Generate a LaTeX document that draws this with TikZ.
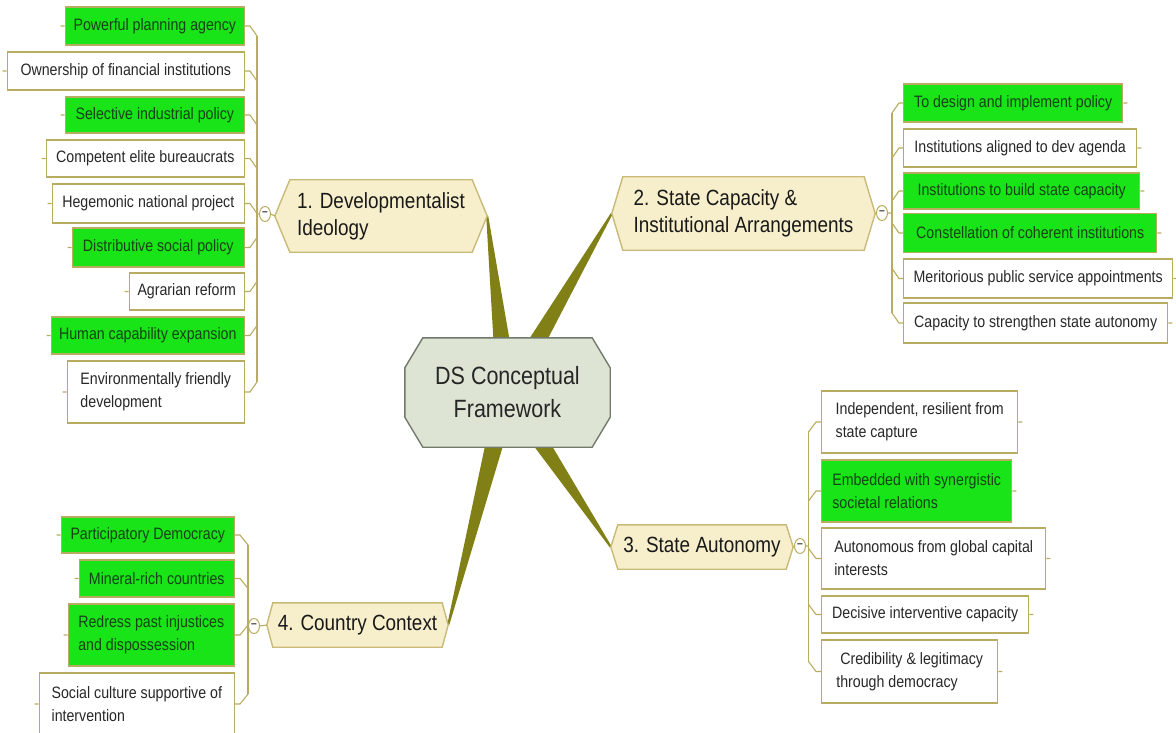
\documentclass[tikz,border=0pt]{standalone}
\usepackage{fontspec}
\setmainfont[FakeStretch=0.86]{Liberation Sans}
\usetikzlibrary{calc,backgrounds,shapes.geometric}

\definecolor{leafgreen}{RGB}{24,228,24}
\definecolor{leafline}{RGB}{184,172,96}
\definecolor{greentext}{RGB}{22,66,22}
\definecolor{greytext}{RGB}{40,40,40}
\definecolor{topicfill}{RGB}{247,239,204}
\definecolor{topicline}{RGB}{200,186,120}
\definecolor{hubfill}{RGB}{222,228,212}
\definecolor{hubline}{RGB}{112,122,106}
\definecolor{olivebar}{RGB}{128,128,22}

\begin{document}
\begin{tikzpicture}[x=1pt,y=-1pt,
    leaf/.style={draw=leafline, line width=1.4pt, fill=white, text=greytext, inner sep=3pt, align=left, font=\fontsize{16.5}{23}\selectfont},
    hot/.style={leaf, fill=leafgreen, text=greentext},
    topic/.style={inner sep=0pt, align=left, text=black!90, font=\fontsize{22}{27}\selectfont},
    twig/.style={leafline, line width=1.1pt},
    knob/.style={ellipse, draw=leafline, fill=white, line width=1pt, minimum width=11pt, minimum height=15pt, inner sep=0pt, font=\fontsize{12}{12}\selectfont\bfseries, text=black!75}]
        \useasboundingbox (0,0) rectangle (1176,733);

        % Centre
        \node[inner sep=0pt, align=center, minimum width=205pt, minimum height=109pt, text=black!85, font=\fontsize{25}{33}\selectfont] (hub) at (507.5,392.5) {DS Conceptual\\Framework};

        % Main topics
        \node[topic, minimum width=212pt, minimum height=72pt] (b1) at (381,216) {1. Developmentalist\\Ideology};
        \node[topic, minimum width=263pt, minimum height=73pt] (b2) at (743.5,213.5) {2. State Capacity \&\\Institutional Arrangements};
        \node[topic, minimum width=182pt, minimum height=44pt] (b3) at (702,547) {3. State Autonomy};
        \node[topic, minimum width=181pt, minimum height=44pt] (b4) at (357.5,625) {4. Country Context};

        \node[knob] (k1) at (265,214) {--};
        \node[knob] (k2) at (882,213) {--};
        \node[knob] (k3) at (800,546) {--};
        \node[knob] (k4) at (254,626) {--};

        % 1. Developmentalist Ideology
        \node[hot, anchor=east, minimum width=179pt, minimum height=38pt] (a1) at (245,26) {Powerful planning agency};
        \node[leaf, anchor=east, minimum width=237pt, minimum height=38pt] (a2) at (245,71) {Ownership of financial institutions};
        \node[hot, anchor=east, minimum width=179pt, minimum height=36pt] (a3) at (245,115) {Selective industrial policy};
        \node[leaf, anchor=east, minimum width=198pt, minimum height=37pt] (a4) at (245,158.5) {Competent elite bureaucrats};
        \node[leaf, anchor=east, minimum width=192pt, minimum height=39pt] (a5) at (245,203.5) {Hegemonic national project};
        \node[hot, anchor=east, minimum width=172pt, minimum height=39pt] (a6) at (245,247.5) {Distributive social policy};
        \node[leaf, anchor=east, minimum width=115pt, minimum height=37pt] (a7) at (245,291.5) {Agrarian reform};
        \node[hot, anchor=east, minimum width=193pt, minimum height=37pt] (a8) at (245,335.5) {Human capability expansion};
        \node[leaf, anchor=east, minimum width=177pt, minimum height=62pt] (a9) at (245,392) {Environmentally friendly\\development};

        % 2. State Capacity
        \node[hot, anchor=west, minimum width=219pt, minimum height=38pt] (d1) at (903,103) {To design and implement policy};
        \node[leaf, anchor=west, minimum width=233pt, minimum height=38pt] (d2) at (903,148) {Institutions aligned to dev agenda};
        \node[hot, anchor=west, minimum width=236pt, minimum height=36pt] (d3) at (903,191) {Institutions to build state capacity};
        \node[hot, anchor=west, minimum width=253pt, minimum height=39pt] (d4) at (903,233) {Constellation of coherent institutions};
        \node[leaf, anchor=west, minimum width=269pt, minimum height=39pt] (d5) at (903,278.5) {Meritorious public service appointments};
        \node[leaf, anchor=west, minimum width=264pt, minimum height=40pt] (d6) at (903,323) {Capacity to strengthen state autonomy};

        % 3. State Autonomy
        \node[leaf, anchor=west, minimum width=196pt, minimum height=62pt] (e1) at (821,422) {Independent, resilient from\\state capture};
        \node[hot, anchor=west, minimum width=190pt, minimum height=62pt] (e2) at (821,491) {Embedded with synergistic\\societal relations};
        \node[leaf, anchor=west, minimum width=224pt, minimum height=61pt] (e3) at (821,558.5) {Autonomous from global capital\\interests};
        \node[leaf, anchor=west, minimum width=207pt, minimum height=37pt] (e4) at (821,614.5) {Decisive interventive capacity};
        \node[leaf, anchor=west, minimum width=176pt, minimum height=63pt] (e5) at (821,671.5) {\ Credibility \& legitimacy\\through democracy};

        % 4. Country Context
        \node[hot, anchor=east, minimum width=173pt, minimum height=36pt] (f1) at (235,535) {Participatory Democracy};
        \node[hot, anchor=east, minimum width=155pt, minimum height=37pt] (f2) at (235,578.5) {Mineral-rich countries};
        \node[hot, anchor=east, minimum width=166pt, minimum height=62pt] (f3) at (235,635) {Redress past injustices\\and dispossession};
        \node[leaf, anchor=east, minimum width=195pt, minimum height=62pt] (f4) at (235,704) {Social culture supportive of\\intervention};

        \begin{scope}[on background layer]
          % Tapered branches
          \foreach \t in {b1.east,b2.west,b3.west,b4.east}
            \fill[olivebar] ($(\t)!1pt!90:(hub)$) -- ($(hub)!11pt!-90:(\t)$) -- ($(hub)!11pt!90:(\t)$) -- ($(\t)!1pt!-90:(hub)$) -- cycle;
          % Topic shapes
          \foreach \b/\d in {b1/15,b2/11,b3/7,b4/6}
            \filldraw[draw=topicline, fill=topicfill, line width=1.4pt] (\b.west) -- ([xshift=\d]\b.north west) -- ([xshift=-\d]\b.north east) -- (\b.east) -- ([xshift=-\d]\b.south east) -- ([xshift=\d]\b.south west) -- cycle;
          \filldraw[draw=hubline, fill=hubfill, line width=1.4pt] ([yshift=-30]hub.north west) -- ([xshift=18]hub.north west) -- ([xshift=-18]hub.north east) -- ([yshift=-30]hub.north east) -- ([yshift=30]hub.south east) -- ([xshift=-18]hub.south east) -- ([xshift=18]hub.south west) -- ([yshift=30]hub.south west) -- cycle;
        \end{scope}

        % Twigs, left groups
        \draw[twig] (b1.west) -- (k1.east) (k1.west) -- ++(-2,0);
        \draw[twig] ($(a1.east -| k1.west)+(-2,10)$) -- ($(a9.east -| k1.west)+(-2,-10)$);
        \foreach \n/\s in {a1/1,a2/1,a3/1,a4/1,a5/1,a6/-1,a7/-1,a8/-1,a9/-1}
          \draw[twig] (\n.west) -- ++(-4,0) (\n.east) -- ++(5,0) -- ($(\n.east -| k1.west)+(-2,10*\s)$);

        \draw[twig] (b4.west) -- (k4.east);
        \draw[twig] ($(f1.east -| k4.west)+(0,10)$) -- ($(f4.east -| k4.west)+(0,-10)$);
        \foreach \n/\s in {f1/1,f2/1,f3/-1,f4/-1}
          \draw[twig] (\n.west) -- ++(-4,0) (\n.east) -- ++(5,0) -- ($(\n.east -| k4.west)+(0,10*\s)$);

        % Twigs, right groups
        \draw[twig] (b2.east) -- (k2.west) (k2.east) -- ++(4,0);
        \draw[twig] ($(d1.west -| k2.east)+(4,10)$) -- ($(d6.west -| k2.east)+(4,-10)$);
        \foreach \n/\s in {d1/1,d2/1,d3/1,d4/-1,d5/-1,d6/-1}
          \draw[twig] (\n.east) -- ++(4,0) (\n.west) -- ++(-4,0) -- ($(\n.west -| k2.east)+(4,10*\s)$);

        \draw[twig] (b3.east) -- (k3.west) (k3.east) -- ++(2.5,0);
        \draw[twig] ($(e1.west -| k3.east)+(2.5,10)$) -- ($(e5.west -| k3.east)+(2.5,-10)$);
        \foreach \n/\s in {e1/1,e2/1,e3/-1,e4/-1,e5/-1}
          \draw[twig] (\n.east) -- ++(4,0) (\n.west) -- ++(-5,0) -- ($(\n.west -| k3.east)+(2.5,10*\s)$);
\end{tikzpicture}
\end{document}
